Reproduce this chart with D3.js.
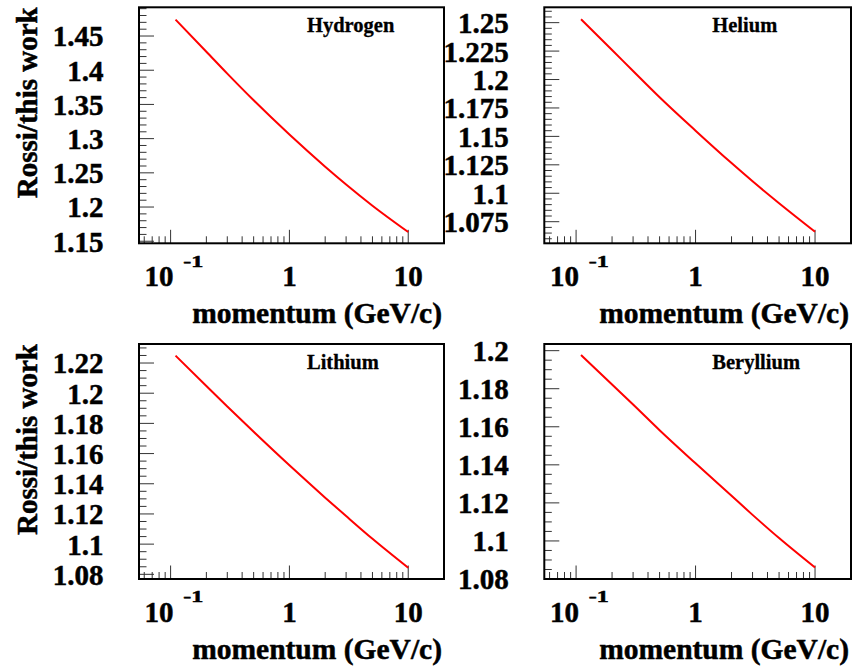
<!DOCTYPE html>
<html>
<head>
<meta charset="utf-8">
<script src="https://cdn.jsdelivr.net/npm/d3@7"></script>
<style>
  body { margin: 0; background: #fff; }
  svg text {
    font-family: "Times New Roman", Times, "Liberation Serif", "DejaVu Serif", serif;
    font-weight: bold;
    fill: #000;
    stroke: #000;
    stroke-width: 0.5px;
  }
</style>
</head>
<body>
<div id="chart"></div>
<script>
// momentum in GeV/c and the Rossi / this work ratio read for each element
const momentum = [0.11, 0.2, 0.3, 0.5, 1, 2, 3, 5, 10];
const hydrogenRatio = [1.474, 1.427, 1.395, 1.356, 1.306, 1.259, 1.233, 1.202, 1.1635];
const heliumRatio = [1.253, 1.226, 1.2075, 1.1844, 1.155, 1.1265, 1.1105, 1.0913, 1.0662];
const lithiumRatio = [1.2249, 1.2048, 1.1912, 1.1744, 1.1522, 1.1308, 1.1186, 1.1035, 1.0843];
const berylliumRatio = [1.1977, 1.1822, 1.1717, 1.1582, 1.1408, 1.1237, 1.1137, 1.1015, 1.086];

const hydrogenTicks = [1.15, 1.2, 1.25, 1.3, 1.35, 1.4, 1.45];
const heliumTicks = [1.075, 1.1, 1.125, 1.15, 1.175, 1.2, 1.225, 1.25];
const lithiumTicks = [1.08, 1.1, 1.12, 1.14, 1.16, 1.18, 1.2, 1.22];
const berylliumTicks = [1.08, 1.1, 1.12, 1.14, 1.16, 1.18, 1.2];

const xMajorTicks = [0.1, 1, 10];

const panels = [
  { name: "Hydrogen", values: hydrogenRatio, ticks: hydrogenTicks, minorStep: 0.01, yDomain: [1.147, 1.492], col: 0, row: 0 },
  { name: "Helium", values: heliumRatio, ticks: heliumTicks, minorStep: 0.005, yDomain: [1.056, 1.2635], col: 1, row: 0 },
  { name: "Lithium", values: lithiumRatio, ticks: lithiumTicks, minorStep: 0.005, yDomain: [1.0769, 1.2326], col: 0, row: 1 },
  { name: "Beryllium", values: berylliumRatio, ticks: berylliumTicks, minorStep: 0.005, yDomain: [1.08, 1.2035], col: 1, row: 1 }
];

const width = 854;
const height = 666;
const cols = [[139, 444], [544.3, 851]];
const rows = [[7.3, 243.3], [344, 579]];

const svg = d3.select("#chart")
  .append("svg")
  .attr("width", width)
  .attr("height", height);

class RatioPanel {
  constructor(_config) {
    this.config = _config;
    this.initVis();
  }

  initVis() {
    const vis = this;
    const [x0, x1] = cols[vis.config.col];
    const [y0, y1] = rows[vis.config.row];

    vis.xScale = d3.scaleLog()
      .domain([0.0542, 20])
      .range([x0, x1]);

    vis.yScale = d3.scaleLinear()
      .domain(vis.config.yDomain)
      .range([y1, y0]);

    vis.g = svg.append("g").attr("class", "panel");

    // x minor ticks: 2..9 of each decade
    const xMinor = [];
    [-2, -1, 0, 1].forEach((d) => {
      for (let k = 2; k <= 9; k++) {
        const v = k * Math.pow(10, d);
        if (v >= 0.0542 && v <= 20) xMinor.push(v);
      }
    });

    vis.g.selectAll(".x-minor")
      .data(xMinor)
      .join("line")
      .attr("class", "x-minor")
      .attr("x1", (d) => vis.xScale(d))
      .attr("x2", (d) => vis.xScale(d))
      .attr("y1", y1)
      .attr("y2", y1 - 7)
      .attr("stroke", "#333")
      .attr("stroke-width", 1);

    vis.g.selectAll(".x-major")
      .data(xMajorTicks)
      .join("line")
      .attr("class", "x-major")
      .attr("x1", (d) => vis.xScale(d))
      .attr("x2", (d) => vis.xScale(d))
      .attr("y1", y1)
      .attr("y2", y1 - 13.5)
      .attr("stroke", "#333")
      .attr("stroke-width", 1);

    // y minor ticks
    const step = vis.config.minorStep;
    const yMinor = d3.range(
      Math.ceil(vis.config.yDomain[0] / step - 1e-6),
      Math.floor(vis.config.yDomain[1] / step + 1e-6) + 1
    ).map((i) => +(i * step).toFixed(4))
      .filter((v) => !vis.config.ticks.some((t) => Math.abs(t - v) < 1e-6));

    vis.g.selectAll(".y-minor")
      .data(yMinor)
      .join("line")
      .attr("class", "y-minor")
      .attr("x1", x0)
      .attr("x2", x0 + 7.5)
      .attr("y1", (d) => vis.yScale(d))
      .attr("y2", (d) => vis.yScale(d))
      .attr("stroke", "#333")
      .attr("stroke-width", 1);

    vis.g.selectAll(".y-major")
      .data(vis.config.ticks)
      .join("line")
      .attr("class", "y-major")
      .attr("x1", x0)
      .attr("x2", x0 + 15)
      .attr("y1", (d) => vis.yScale(d))
      .attr("y2", (d) => vis.yScale(d))
      .attr("stroke", "#333")
      .attr("stroke-width", 1);

    vis.g.selectAll(".y-label")
      .data(vis.config.ticks)
      .join("text")
      .attr("class", "y-label")
      .attr("x", x0 - 35.5)
      .attr("y", (d) => vis.yScale(d))
      .attr("dy", "0.36em")
      .attr("text-anchor", "end")
      .style("font-size", "29px")
      .text((d) => String(d));

    // x tick labels, 10^-1 drawn with a raised exponent
    const lab = vis.g.append("g").attr("class", "x-labels");
    const xp1 = vis.xScale(0.1);
    lab.append("text")
      .attr("x", xp1 + 2.8)
      .attr("y", y1 + 43)
      .attr("text-anchor", "end")
      .style("font-size", "29px")
      .text("10");
    lab.append("text")
      .attr("transform", `translate(${xp1 + 12.6},${y1 + 23.4}) scale(1.5,1)`)
      .style("font-size", "16px")
      .text("-1");
    lab.append("text")
      .attr("x", vis.xScale(1))
      .attr("y", y1 + 43)
      .attr("text-anchor", "middle")
      .style("font-size", "29px")
      .text("1");
    lab.append("text")
      .attr("x", vis.xScale(10))
      .attr("y", y1 + 43)
      .attr("text-anchor", "middle")
      .style("font-size", "29px")
      .text("10");

    vis.g.append("text")
      .attr("x", x1 - 2)
      .attr("y", y1 + 80)
      .attr("text-anchor", "end")
      .style("font-size", "29.5px")
      .text("momentum (GeV/c)");

    if (vis.config.col === 0) {
      vis.g.append("text")
        .attr("transform", `translate(36.5,${y0}) rotate(-90)`)
        .attr("text-anchor", "end")
        .style("font-size", "29px")
        .text("Rossi/this work");
    }

    vis.g.append("text")
      .attr("x", x0 + 168)
      .attr("y", y0 + 25)
      .style("font-size", "20.5px")
      .style("stroke-width", "0.3px")
      .text(vis.config.name);

    const line = d3.line()
      .x((d, i) => vis.xScale(momentum[i]))
      .y((d) => vis.yScale(d))
      .curve(d3.curveMonotoneX);

    vis.g.append("path")
      .datum(vis.config.values)
      .attr("d", line)
      .attr("fill", "none")
      .attr("stroke", "#ff0000")
      .attr("stroke-width", 2);

    vis.g.append("rect")
      .attr("x", x0)
      .attr("y", y0)
      .attr("width", x1 - x0)
      .attr("height", y1 - y0)
      .attr("fill", "none")
      .attr("stroke", "#000")
      .attr("stroke-width", 2);
  }
}

panels.forEach((p) => new RatioPanel(p));
</script>
</body>
</html>
